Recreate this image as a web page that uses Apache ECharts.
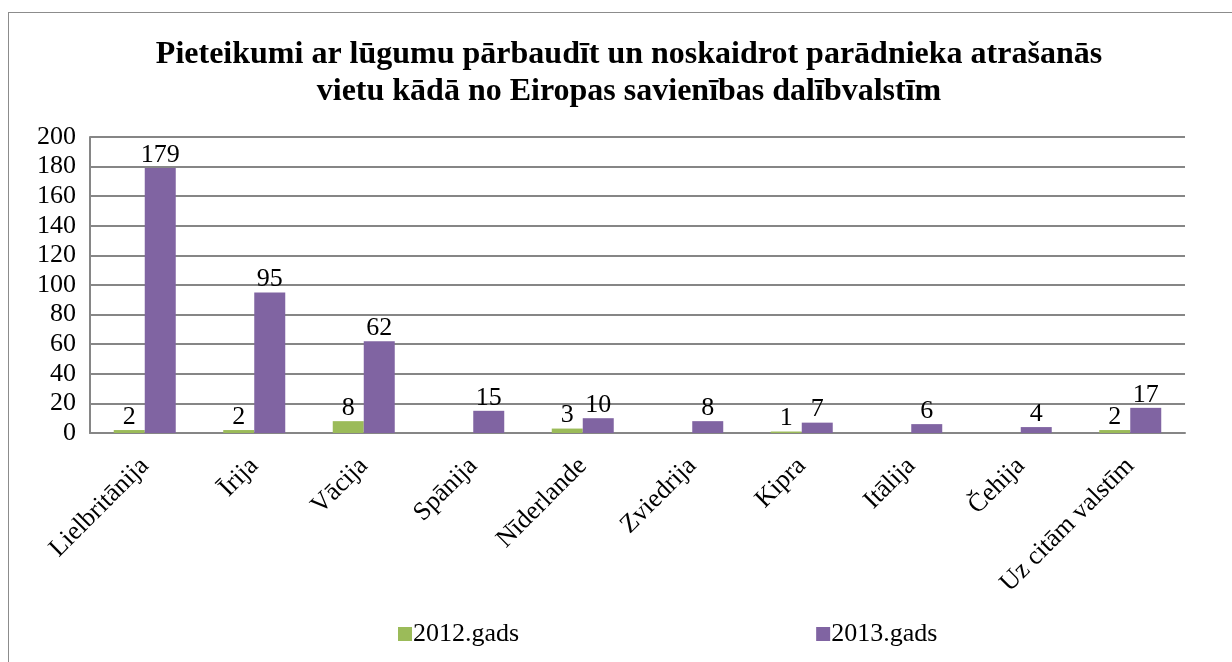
<!DOCTYPE html>
<html>
<head>
<meta charset="utf-8">
<script src="https://cdn.jsdelivr.net/npm/echarts@6/dist/echarts.min.js"></script>
<style>
  html, body { margin: 0; padding: 0; background: #fff; }
  #frame { position: absolute; left: 8px; top: 12px; width: 1240px; height: 660px;
           border-left: 1px solid #8c8c8c; border-top: 1px solid #8c8c8c; }
  #chart { position: absolute; left: 0; top: 0; width: 1232px; height: 662px; }
</style>
</head>
<body>
<div id="frame"></div>
<div id="chart"></div>
<script>
const categories = ['Lielbritānija', 'Īrija', 'Vācija', 'Spānija', 'Nīderlande',
  'Zviedrija', 'Kipra', 'Itālija', 'Čehija', 'Uz citām valstīm'];
const values2012 = [2, 2, 8, null, 3, null, 1, null, null, 2];
const values2013 = [179, 95, 62, 15, 10, 8, 7, 6, 4, 17];
const seriesNames = ['2012.gads', '2013.gads'];

const font = 'Liberation Serif, Times New Roman, serif';
const chart = echarts.init(document.getElementById('chart'), null, { renderer: 'canvas' });

// etiķete virs stabiņa
const lbl = {
  show: true,
  position: 'top',
  distance: 0,
  color: '#000',
  fontFamily: font,
  fontSize: 26
};

const option = {
  backgroundColor: 'transparent',
  animation: false,
  title: {
    text: 'Pieteikumi ar lūgumu pārbaudīt un noskaidrot parādnieka atrašanās\nvietu kādā no Eiropas savienības dalībvalstīm',
    left: 624,
    top: 31,
    textAlign: 'center',
    textStyle: {
      fontFamily: font,
      fontWeight: 'bold',
      fontSize: 32,
      lineHeight: 37,
      color: '#000'
    }
  },
  legend: {
    data: seriesNames,
    left: 393,
    top: 616,
    itemWidth: 14,
    itemHeight: 14,
    itemGap: 297,
    icon: 'rect',
    textStyle: { fontFamily: font, fontSize: 26, color: '#000', padding: [0, 0, 0, -4] }
  },
  grid: { left: 90, right: 47, top: 137, bottom: 229, containLabel: false },
  xAxis: {
    type: 'category',
    data: categories,
    axisLine: { show: true, lineStyle: { color: '#868686', width: 2 } },
    axisTick: { show: false },
    axisLabel: {
      rotate: 45,
      margin: 29,
      interval: 0,
      color: '#000',
      fontFamily: font,
      fontSize: 26
    }
  },
  yAxis: {
    type: 'value',
    min: 0,
    max: 200,
    interval: 20,
    axisLine: { show: true, lineStyle: { color: '#868686', width: 2 } },
    axisTick: { show: false },
    splitLine: { lineStyle: { color: '#868686', width: 2 } },
    axisLabel: { margin: 14, color: '#000', fontFamily: font, fontSize: 26 }
  },
  series: [
    {
      name: seriesNames[0],
      type: 'bar',
      data: values2012,
      barWidth: 31,
      barGap: '0%',
      itemStyle: { color: '#9BBB59' },
      label: lbl
    },
    {
      name: seriesNames[1],
      type: 'bar',
      data: values2013,
      barWidth: 31,
      barGap: '0%',
      itemStyle: { color: '#8064A2' },
      label: lbl
    }
  ]
};

chart.setOption(option);
window.addEventListener('resize', () => chart.resize());
</script>
</body>
</html>
